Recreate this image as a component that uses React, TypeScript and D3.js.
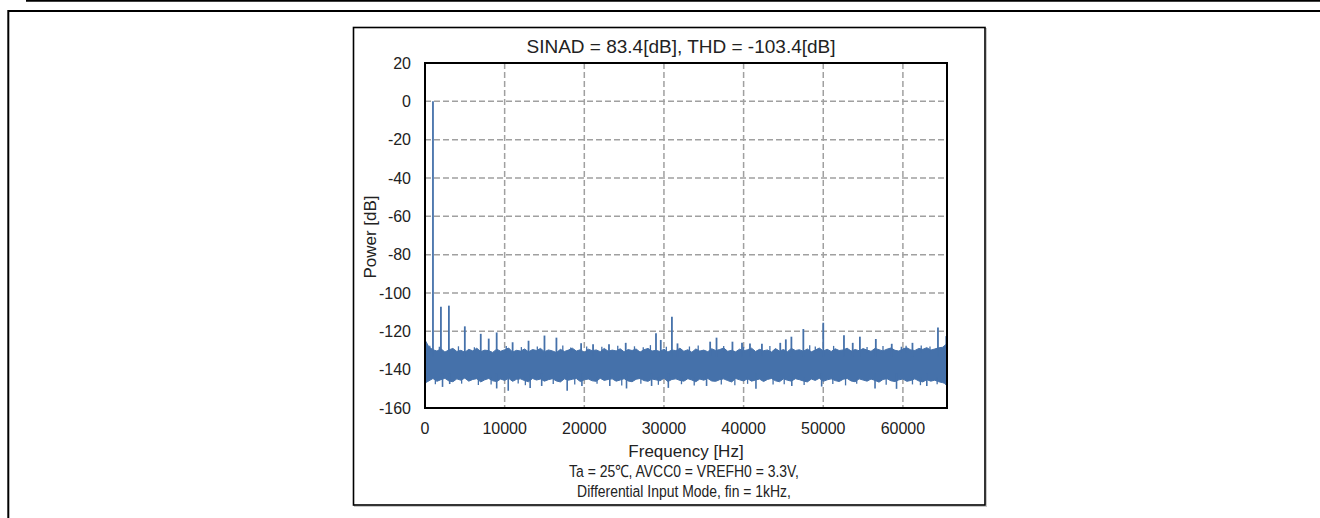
import React from "react";
import * as d3 from "d3";

// ---------- data ----------
const titleText = "SINAD = 83.4[dB], THD = -103.4[dB]";
const xTicks = [0, 10000, 20000, 30000, 40000, 50000, 60000];
const yTicks = [20, 0, -20, -40, -60, -80, -100, -120, -140, -160];
const xLabel = "Frequency [Hz]";
const yLabel = "Power [dB]";
const noteLines = ["Ta = 25\u2103, AVCC0 = VREFH0 = 3.3V,", "Differential Input Mode, fin = 1kHz,"];

const binHz = 500;
// noise floor upper envelope, one value per 500 Hz bin (0 .. 65500 Hz)
const noiseTop = [
  -124.5, -128.2, -129.6, -130.3, -129.1, -130.8, -129.7, -128.9, -130.5, -129.9,
  -130.9, -129.4, -130.2, -128.8, -130.6, -129.8, -130.1, -131.0, -129.3, -130.4,
  -129.6, -128.7, -130.8, -129.9, -130.3, -129.2, -130.7, -129.5, -130.0, -128.9,
  -130.6, -129.7, -130.2, -131.1, -129.4, -130.5, -129.8, -128.8, -130.3, -129.6,
  -130.9, -129.3, -130.1, -129.7, -130.6, -128.9, -130.4, -129.8, -130.2, -129.1,
  -130.7, -129.5, -130.0, -129.2, -130.8, -129.6, -128.9, -130.3, -129.9, -130.5,
  -129.3, -130.8, -129.7, -130.1, -128.8, -130.4, -129.6, -130.9, -129.2, -130.3,
  -129.8, -130.6, -129.1, -130.0, -129.5, -128.7, -130.4, -129.9, -130.7, -129.3,
  -130.2, -129.6, -128.8, -130.5, -129.4, -130.1, -129.7, -130.8, -129.0, -130.3,
  -129.5, -130.6, -128.9, -130.0, -129.6, -130.4, -129.2, -130.7, -129.8, -128.7,
  -130.2, -129.4, -130.5, -129.1, -130.0, -129.7, -128.8, -130.3, -129.5, -130.1,
  -129.0, -129.8, -130.4, -128.9, -129.6, -130.2, -129.3, -128.7, -129.9, -130.3,
  -129.1, -128.6, -129.7, -130.0, -128.9, -129.4, -128.5, -129.8, -129.2, -128.6,
  -128.3, -126.5,
];
// noise floor lower envelope, same bins
const noiseBottom = [
  -147.0, -145.8, -144.6, -146.1, -145.2, -144.5, -145.9, -146.3, -144.8, -145.5,
  -144.4, -146.0, -145.1, -144.7, -146.4, -145.3, -144.6, -145.8, -146.2, -144.9,
  -145.6, -144.5, -146.1, -145.0, -144.8, -145.7, -146.3, -144.6, -145.4, -144.9,
  -146.0, -145.2, -144.7, -145.9, -146.4, -144.8, -145.5, -145.0, -144.6, -146.2,
  -145.3, -144.9, -145.8, -146.1, -144.5, -145.6, -145.1, -144.8, -146.0, -145.4,
  -144.7, -145.9, -146.3, -145.0, -144.6, -145.7, -146.1, -144.9, -145.3, -145.8,
  -144.5, -146.2, -145.1, -144.8, -145.6, -146.0, -144.7, -145.4, -146.3, -144.9,
  -145.5, -144.6, -145.9, -146.1, -145.2, -144.8, -145.7, -146.4, -144.6, -145.3,
  -145.9, -144.7, -146.0, -145.4, -144.9, -146.2, -145.1, -144.6, -145.8, -146.3,
  -144.8, -145.5, -146.0, -144.7, -145.2, -145.9, -146.4, -144.9, -145.6, -144.5,
  -146.1, -145.3, -144.8, -145.7, -146.2, -145.0, -144.6, -145.9, -146.3, -144.8,
  -145.4, -146.0, -144.9, -145.6, -146.5, -145.1, -144.7, -145.8, -146.2, -145.3,
  -144.9, -146.1, -145.6, -144.8, -145.9, -146.4, -145.2, -146.0, -145.5, -146.3,
  -146.8, -147.5,
];
// narrow peaks (fundamental, harmonics, spurs): [Hz, dB]
const peaks: [number, number][] = [
  [1000, 0], [2000, -107.2], [3000, -106.6], [5000, -117.4], [7000, -121.3],
  [8000, -123.8], [9000, -120.6], [11000, -125.7], [13000, -124.9], [15000, -122.2],
  [16500, -123.3], [19600, -126.2], [21100, -126.8], [23100, -126.8], [25200, -126.0],
  [29000, -121.0], [29600, -124.5], [31000, -112.4], [31700, -126.3], [35800, -125.4],
  [36600, -123.3], [38600, -125.4], [39800, -126.0], [40800, -126.3], [42300, -126.5],
  [44600, -126.0], [45300, -124.2], [46000, -122.8], [47500, -118.8], [50000, -115.5],
  [52600, -122.0], [53700, -126.0], [54600, -122.8], [56600, -124.0], [58600, -126.5],
  [61200, -126.0], [64400, -118.0], [65450, -122.5],
];
// small bumps on the top edge of the floor: [Hz, dB]
const smallPeaks: [number, number][] = [
  [600, -127.5], [1800, -128.0], [4200, -127.8], [6200, -128.3], [10200, -127.6],
  [12100, -128.2], [14100, -127.9], [17300, -127.4], [18300, -128.4], [20300, -127.9],
  [22200, -128.1], [24200, -127.5], [26300, -127.8], [27400, -128.3], [28300, -127.2],
  [30300, -128.0], [33200, -127.9], [34300, -127.4], [37500, -127.7], [40000, -128.1],
  [43300, -127.6], [48300, -127.3], [49000, -127.9], [51300, -127.6], [55500, -128.2],
  [57500, -127.7], [59800, -128.0], [60400, -127.5], [62300, -127.4], [63400, -127.9],
];
// narrow downward dips of the noise floor: [Hz, dB]
const dips: [number, number][] = [
  [2200, -149.0], [3100, -147.5], [9000, -149.8], [10450, -151.0], [13200, -149.5],
  [14650, -148.5], [17850, -151.0], [19700, -148.5], [23200, -148.5], [25300, -149.8],
  [28450, -148.5], [30550, -149.5], [35350, -148.5], [41550, -150.0], [46050, -148.5],
  [49800, -148.8], [56500, -149.8], [59200, -150.0], [63000, -148.5], [65400, -148.0],
];
// small notches on the bottom edge of the floor: [Hz, dB]
const smallDips: [number, number][] = [
  [1300, -147.6], [4600, -147.3], [6700, -148.0], [8300, -147.7], [11700, -147.2],
  [12600, -148.1], [16100, -147.5], [18800, -147.8], [21600, -147.4], [24700, -148.2],
  [27100, -147.3], [29300, -147.9], [32200, -147.6], [33800, -148.3], [37200, -147.7],
  [38900, -148.1], [40500, -147.4], [43700, -147.8], [45100, -147.6], [47600, -148.0],
  [51200, -147.5], [52800, -148.2], [54200, -147.3], [57900, -147.9], [61200, -147.7],
  [62200, -148.1], [64300, -147.6],
];

// ---------- layout ----------
const W = 1320;
const H = 518;
const plot = { left: 425, right: 947, top: 63, bottom: 408 };
const blue = "#4571AA";
const font = "'Liberation Sans', Arial, sans-serif";

export default function App() {
  const x = d3.scaleLinear().domain([0, 65536]).range([plot.left, plot.right]);
  const y = d3.scaleLinear().domain([-160, 20]).range([plot.bottom, plot.top]);

  const bins = noiseTop.map((t, i) => ({ f: i * binHz, t, b: noiseBottom[i] }));
  const area = d3
    .area<{ f: number; t: number; b: number }>()
    .x((d) => x(d.f))
    .y0((d) => y(d.b))
    .y1((d) => y(d.t))
    .curve(d3.curveLinear)(bins) as string;

  const cx = (plot.left + plot.right) / 2;

  const spike = (list: [number, number][], base: number, w: number, key: string) =>
    list.map(([f, v], i) => (
      <line key={key + i} x1={x(f)} x2={x(f)} y1={y(base)} y2={y(v)} stroke={blue} strokeWidth={w} />
    ));

  return (
    <svg
      width={W}
      height={H}
      style={{ position: "absolute", left: 0, top: 0, display: "block", background: "#fff" }}
      fontFamily={font}
    >
      {/* page frame lines */}
      <line x1={26} x2={W} y1={0.8} y2={0.8} stroke="#000" strokeWidth={2} />
      <path d={`M${W},11 H8.3 V${H}`} fill="none" stroke="#000" strokeWidth={2} />

      {/* chart box */}
      <rect x={354.5} y={28.5} width={632} height={478} fill="none" stroke="#c8c8c8" strokeWidth={1} />
      <rect x={353.5} y={27.5} width={631.5} height={477.5} fill="#fff" stroke="#000" strokeWidth={1.6} />

      {/* title */}
      <text x={681} y={53} textAnchor="middle" fontSize={19} fill="#222">
        {titleText}
      </text>

      {/* gridlines */}
      <g stroke="#a0a0a0" strokeWidth={1.5} strokeDasharray="6,3">
        {xTicks.slice(1).map((t) => (
          <line key={"gx" + t} x1={x(t)} x2={x(t)} y1={plot.top} y2={plot.bottom} />
        ))}
        {yTicks.slice(1, -1).map((t) => (
          <line key={"gy" + t} x1={plot.left} x2={plot.right} y1={y(t)} y2={y(t)} />
        ))}
      </g>

      {/* data */}
      <g>
        <path d={area} fill={blue} stroke={blue} strokeWidth={1} strokeLinejoin="miter" />
        {spike(smallPeaks, -131, 1.3, "sp")}
        {spike(smallDips, -144, 1.3, "sd")}
        {spike(peaks, -133, 1.8, "p")}
        {spike(dips, -142, 1.6, "d")}
      </g>

      {/* plot border */}
      <rect
        x={plot.left}
        y={plot.top}
        width={plot.right - plot.left}
        height={plot.bottom - plot.top}
        fill="none"
        stroke="#000"
        strokeWidth={2}
      />

      {/* y tick labels */}
      <g fontSize={16} fill="#222" textAnchor="end">
        {yTicks.map((t) => (
          <text key={"yl" + t} x={411} y={y(t)} dy="0.35em">
            {t}
          </text>
        ))}
      </g>
      {/* x tick labels */}
      <g fontSize={16} fill="#222" textAnchor="middle">
        {xTicks.map((t) => (
          <text key={"xl" + t} x={x(t)} y={428} dy="0.35em">
            {t}
          </text>
        ))}
      </g>

      {/* axis titles */}
      <text x={cx} y={451} dy="0.35em" textAnchor="middle" fontSize={17} fill="#222">
        {xLabel}
      </text>
      <text
        transform={`translate(370,237) rotate(-90)`}
        dy="0.35em"
        textAnchor="middle"
        fontSize={17}
        fill="#222"
      >
        {yLabel}
      </text>
      {noteLines.map((s, i) => (
        <text
          key={"n" + i}
          transform={`translate(${cx - 2},${471 + i * 20}) scale(0.82,1)`}
          dy="0.35em"
          textAnchor="middle"
          fontSize={17}
          fill="#222"
        >
          {s}
        </text>
      ))}
    </svg>
  );
}
